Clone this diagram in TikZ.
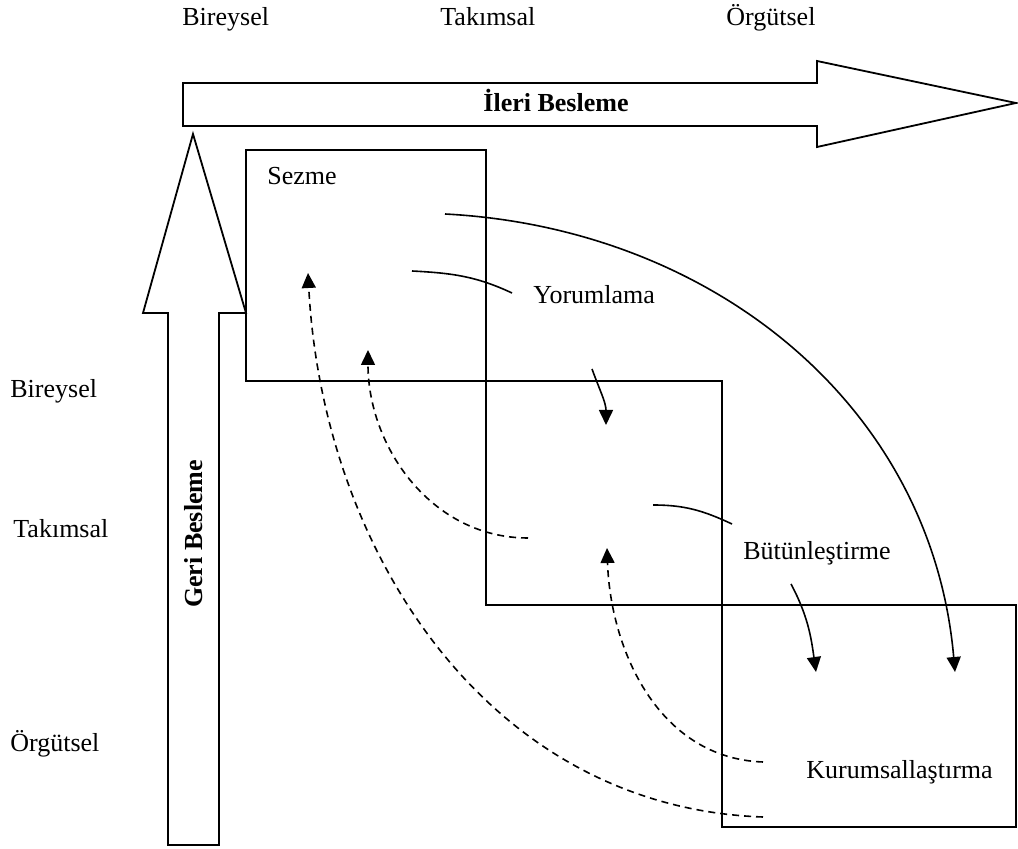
\documentclass[tikz,border=0pt]{standalone}
\usepackage{fontspec}
\setmainfont{Liberation Serif}
\usetikzlibrary{arrows.meta}
\tikzset{
  lbl/.style={font=\fontsize{13}{15}\selectfont,inner sep=0pt},
  title/.style={lbl,font=\fontsize{13}{15}\selectfont\bfseries},
  frame/.style={draw=black,line width=1pt},
  bigarrow/.style={draw=black,line width=0.9pt,fill=white,line join=miter},
  link/.style={draw=black,line width=0.8pt},
  flow/.style={link,-{Triangle[length=7.5pt,width=7pt]}},
  back/.style={flow,dash pattern=on 3.5pt off 2.5pt}
}

\begin{document}
\begin{tikzpicture}[x=0.5pt,y=0.5pt]
    \useasboundingbox (0,0) rectangle (1018,-849);

    % ileri / geri besleme
    \draw[bigarrow] (183,-83) -- (817,-83) -- (817,-61) -- (1016,-103) -- (817,-147) -- (817,-126) -- (183,-126) -- cycle;
    \draw[bigarrow] (168,-845) -- (168,-313) -- (143,-313) -- (193,-134) -- (246,-313) -- (219,-313) -- (219,-845) -- cycle;
    \node[title,anchor=base] (ileri) at (556,-112) {İleri Besleme};
    \node[title,anchor=base,rotate=90] (geri) at (202,-534) {Geri Besleme};

    % seviyeler
    \node[lbl,anchor=base west] (topBir) at (182,-26) {Bireysel};
    \node[lbl,anchor=base west] (topTak) at (440,-26) {Takımsal};
    \node[lbl,anchor=base west] (topOrg) at (726,-26) {Örgütsel};
    \node[lbl,anchor=base west] (sideBir) at (10,-398) {Bireysel};
    \node[lbl,anchor=base west] (sideTak) at (13,-538) {Takımsal};
    \node[lbl,anchor=base west] (sideOrg) at (10,-752) {Örgütsel};

    % kutular
    \draw[frame] (246,-150) rectangle (486,-381);
    \draw[frame] (486,-381) rectangle (722,-605);
    \draw[frame] (722,-605) rectangle (1016,-827);

    \node[lbl,anchor=base west] (sezme) at (267,-185) {Sezme};
    \node[lbl,anchor=base west] (yorum) at (533,-304) {Yorumlama};
    \node[lbl,fill=white,inner xsep=10pt,minimum height=30pt] (butun) at (817,-553) {Bütünleştirme};
    \node[lbl,anchor=base west] (kurum) at (806,-778) {Kurumsallaştırma};

    \coordinate (sA) at (412,-271);
    \coordinate (sB) at (445,-214);
    \coordinate (yIn) at (512,-293);
    \coordinate (yA) at (592,-369);
    \coordinate (yB) at (606,-425);
    \coordinate (bA) at (653,-505);
    \coordinate (bB) at (732,-524);
    \coordinate (bC) at (791,-584);
    \coordinate (kA) at (816,-672);
    \coordinate (kB) at (955,-672);
    \coordinate (fb1) at (528,-538);
    \coordinate (fb1t) at (368,-350);
    \coordinate (fb2) at (763,-762);
    \coordinate (fb2t) at (607,-548);
    \coordinate (fb3) at (763,-817);
    \coordinate (fb3t) at (308,-273);

    \draw[link] (sA) to[out=-3,in=155] (yIn);
    \draw[flow] (sB) to[out=-3,in=95] (kB);
    \draw[flow] (yA) to[out=-70,in=90] (yB);
    \draw[link] (bA) to[out=0,in=155] (bB);
    \draw[flow] (bC) to[out=-62,in=98] (kA);

    \draw[back] (fb1) to[out=180,in=-90] (fb1t);
    \draw[back] (fb2) to[out=178,in=-88] (fb2t);
    \draw[back] (fb3) to[out=178,in=-87] (fb3t);
\end{tikzpicture}
\end{document}
